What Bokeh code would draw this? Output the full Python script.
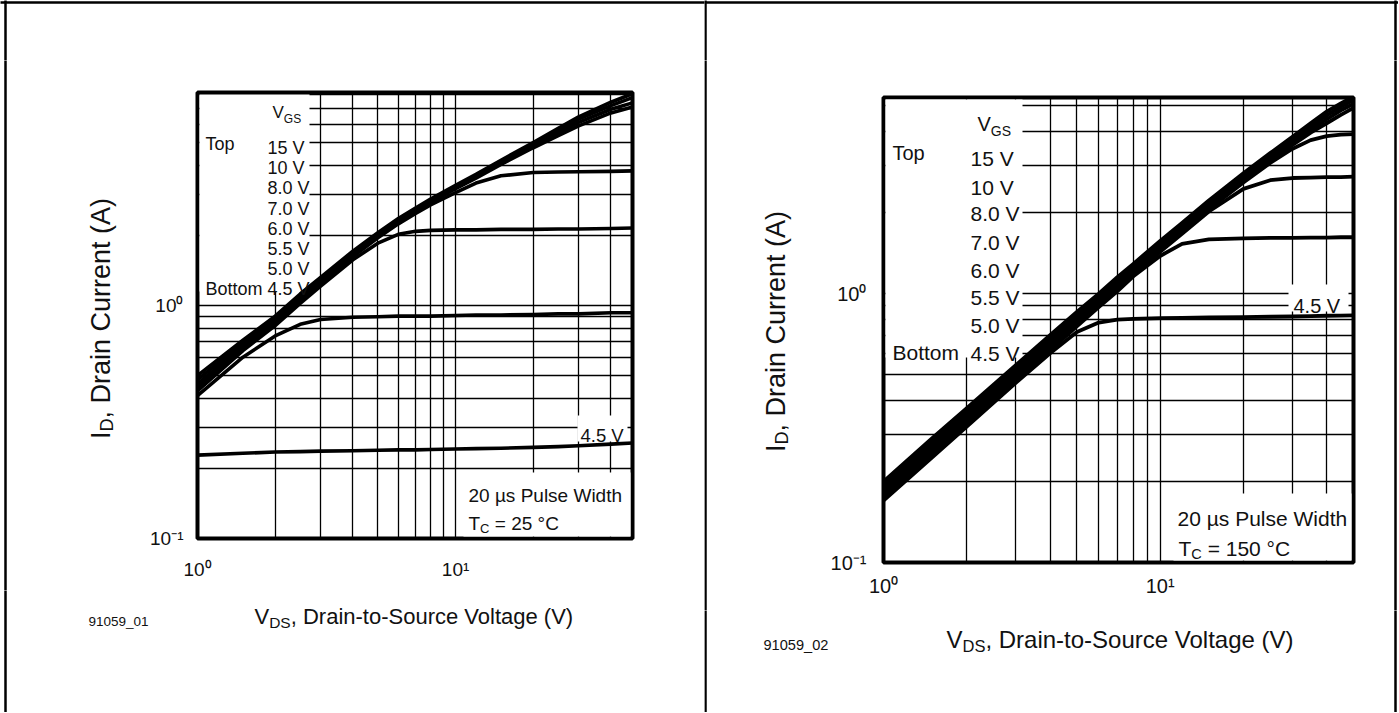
import math
from bokeh.plotting import figure
from bokeh.models import Label, FixedTicker, CustomJSTickFormatter, Range1d, Plot
from bokeh.layouts import row, column
from bokeh.embed import file_html
from bokeh.resources import INLINE

# ---------------- data ----------------
vgs_labels = ["15 V", "10 V", "8.0 V", "7.0 V", "6.0 V", "5.5 V", "5.0 V", "4.5 V"]

# TC = 25 C
vds_25 = [1, 1.5, 2, 2.5, 3, 4, 5, 6, 7, 8, 10, 12, 15, 20, 25, 30, 40, 48.5]
id25_15v = [0.50, 0.71, 0.90, 1.12, 1.32, 1.71, 2.05, 2.36, 2.62, 2.86, 3.28, 3.65, 4.20, 5.00, 5.75, 6.45, 7.45, 8.10]
id25_10v = [0.48, 0.69, 0.88, 1.09, 1.29, 1.68, 2.02, 2.33, 2.59, 2.83, 3.24, 3.60, 4.15, 4.93, 5.65, 6.30, 7.20, 7.80]
id25_8v = [0.46, 0.67, 0.86, 1.07, 1.27, 1.66, 2.00, 2.30, 2.56, 2.80, 3.20, 3.56, 4.10, 4.85, 5.50, 6.10, 6.95, 7.40]
id25_7v = [0.45, 0.66, 0.85, 1.05, 1.25, 1.64, 1.98, 2.28, 2.53, 2.77, 3.17, 3.52, 4.03, 4.75, 5.35, 5.90, 6.70, 7.10]
id25_6v = [0.44, 0.65, 0.84, 1.04, 1.24, 1.62, 1.95, 2.24, 2.48, 2.70, 3.05, 3.35, 3.60, 3.72, 3.74, 3.75, 3.76, 3.78]
id25_55v = [0.43, 0.64, 0.82, 1.02, 1.21, 1.57, 1.85, 2.02, 2.08, 2.10, 2.11, 2.11, 2.12, 2.12, 2.13, 2.13, 2.14, 2.15]
id25_5v = [0.41, 0.60, 0.74, 0.83, 0.87, 0.89, 0.895, 0.90, 0.90, 0.90, 0.905, 0.91, 0.91, 0.915, 0.92, 0.92, 0.93, 0.93]
id25_45v = [0.228, 0.232, 0.235, 0.236, 0.237, 0.238, 0.239, 0.240, 0.240, 0.241, 0.242, 0.243, 0.244, 0.246, 0.248, 0.250, 0.254, 0.257]

# TC = 150 C
vds_150 = [1, 1.5, 2, 3, 4, 5, 6, 7, 8, 10, 12, 15, 20, 25, 30, 35, 40, 45, 50]
id150_15v = [0.200, 0.290, 0.375, 0.540, 0.700, 0.855, 1.00, 1.15, 1.29, 1.57, 1.83, 2.22, 2.80, 3.33, 3.82, 4.30, 4.75, 5.10, 5.40]
id150_10v = [0.195, 0.283, 0.366, 0.527, 0.683, 0.835, 0.98, 1.125, 1.26, 1.54, 1.80, 2.18, 2.74, 3.26, 3.73, 4.18, 4.60, 4.95, 5.25]
id150_8v = [0.190, 0.276, 0.357, 0.515, 0.668, 0.815, 0.96, 1.10, 1.235, 1.51, 1.76, 2.13, 2.68, 3.19, 3.64, 4.07, 4.45, 4.80, 5.08]
id150_7v = [0.185, 0.270, 0.350, 0.505, 0.655, 0.800, 0.94, 1.08, 1.21, 1.48, 1.73, 2.09, 2.63, 3.12, 3.56, 3.97, 4.30, 4.62, 4.90]
id150_6v = [0.181, 0.264, 0.343, 0.495, 0.643, 0.785, 0.925, 1.06, 1.19, 1.455, 1.70, 2.06, 2.59, 3.06, 3.45, 3.72, 3.85, 3.90, 3.92]
id150_55v = [0.177, 0.258, 0.336, 0.485, 0.630, 0.770, 0.905, 1.04, 1.17, 1.43, 1.67, 2.02, 2.45, 2.64, 2.69, 2.70, 2.71, 2.71, 2.72]
id150_5v = [0.173, 0.252, 0.328, 0.475, 0.615, 0.755, 0.89, 1.02, 1.16, 1.38, 1.53, 1.59, 1.605, 1.61, 1.61, 1.615, 1.615, 1.62, 1.62]
id150_45v = [0.170, 0.246, 0.320, 0.465, 0.600, 0.720, 0.78, 0.80, 0.805, 0.81, 0.812, 0.815, 0.818, 0.82, 0.822, 0.825, 0.827, 0.828, 0.83]

x_tick_values = [1, 10]
y_tick_values = [0.1, 1]

curves_25 = [id25_15v, id25_10v, id25_8v, id25_7v, id25_6v, id25_55v, id25_5v, id25_45v]
curves_150 = [id150_15v, id150_10v, id150_8v, id150_7v, id150_6v, id150_55v, id150_5v, id150_45v]

# ---------------- styling helpers ----------------
FONT = "Liberation Sans"
TXT = "#111111"
NOALIGN = {"frame_align": False} if "frame_align" in Plot.properties() else {}
ADV = {' ': 0.278, ',': 0.278, '(': 0.333, ')': 0.333, '-': 0.333, '=': 0.584, '\u00b0': 0.4,
       '\u00b5': 0.576, '.': 0.278, '_': 0.556,
       'A': 0.667, 'B': 0.667, 'C': 0.722, 'D': 0.722, 'G': 0.778, 'I': 0.278, 'P': 0.667,
       'S': 0.667, 'T': 0.611, 'V': 0.667, 'W': 0.944,
       'a': 0.556, 'c': 0.5, 'd': 0.556, 'e': 0.556, 'g': 0.556, 'h': 0.556, 'i': 0.222,
       'l': 0.222, 'm': 0.833, 'n': 0.556, 'o': 0.556, 'p': 0.556, 'r': 0.333, 's': 0.5,
       't': 0.278, 'u': 0.556}


def text_width(s, size):
    return sum(ADV.get(ch, 0.556) for ch in s) * size


class Frame:
    """Page-pixel position of a log-log plot frame."""
    def __init__(self, left, top, right, bottom, x0, x1, y0, y1):
        self.left, self.top, self.right, self.bottom = left, top, right, bottom
        self.x0, self.x1, self.y0, self.y1 = x0, x1, y0, y1
        self.lx0, self.lx1 = math.log10(x0), math.log10(x1)
        self.ly0, self.ly1 = math.log10(y0), math.log10(y1)

    def x(self, px):
        return 10 ** (self.lx0 + (px - self.left) / (self.right - self.left) * (self.lx1 - self.lx0))

    def y(self, py):
        return 10 ** (self.ly1 - (py - self.top) / (self.bottom - self.top) * (self.ly1 - self.ly0))


class Strip:
    """A plain figure whose frame fills its canvas; data units = page pixels."""
    def __init__(self, ox, oy, w, h):
        self.ox, self.oy, self.w, self.h = ox, oy, w, h
        self.p = figure(width=w, height=h, x_range=Range1d(0, w), y_range=Range1d(h, 0),
                        x_axis_location=None, y_axis_location=None, min_border=0,
                        min_border_left=0, min_border_right=0, min_border_top=0, min_border_bottom=0,
                        output_backend="svg", toolbar_location=None,
                        background_fill_color="white", border_fill_color="white", **NOALIGN)
        self.p.outline_line_color = None
        self.p.grid.visible = False

    def x(self, px):
        return px - self.ox

    def y(self, py):
        return py - self.oy

    def vline(self, px):
        self.p.line([px - self.ox] * 2, [-20, self.h + 20], line_color="black", line_width=2.5)

    def hline(self, py):
        self.p.line([-20, self.w + 20], [py - self.oy] * 2, line_color="black", line_width=2.5)


def put(p, M, px, py, text, size, angle=0.0):
    p.add_layout(Label(x=M.x(px), y=M.y(py), text=text, text_font=FONT,
                       text_font_size=f"{size}px", text_align="left",
                       text_baseline="alphabetic", angle=angle, text_color=TXT))


def put_run(p, M, px, py, parts):
    pos = px
    for text, size, shift in parts:
        lead = len(text) - len(text.lstrip(' '))
        pos += text_width(' ' * lead, size)
        body = text.lstrip(' ')
        put(p, M, pos, py + shift, body, size)
        pos += text_width(body, size)


def put_run_vertical(p, M, bx, cy, parts):
    total = sum(text_width(t, s) for t, s, _ in parts)
    pos = cy + total / 2
    for text, size, shift in parts:
        put(p, M, bx + shift, pos, text, size, angle=math.pi / 2)
        pos -= text_width(text, size)


def white_box(p, F, l, r, t, b):
    p.quad(left=[F.x(l)], right=[F.x(r)], top=[F.y(t)], bottom=[F.y(b)],
           fill_color="white", line_color=None)


def decade_minors(lo, hi):
    return [m * 10.0 ** k for k in range(lo, hi + 1) for m in range(2, 10)]


def sup_formatter():
    return CustomJSTickFormatter(code="""
        const e = Math.round(Math.log10(tick));
        const s = {"-1": "\u207b\u00b9", "0": "\u2070", "1": "\u00b9"};
        return "10" + s[String(e)];
    """)


def build(ox, oy, width, height, F, tick_size, xstand, ystand):
    p = figure(width=width, height=height, x_axis_type="log", y_axis_type="log",
               x_range=(F.x0, F.x1), y_range=(F.y0, F.y1),
               output_backend="svg", toolbar_location=None,
               min_border_left=F.left - ox, min_border_right=ox + width - F.right,
               min_border_top=F.top - oy, min_border_bottom=oy + height - F.bottom,
               background_fill_color="white", border_fill_color="white", **NOALIGN)
    p.outline_line_color = "black"
    p.outline_line_width = 4
    p.xaxis.ticker = FixedTicker(ticks=x_tick_values, minor_ticks=decade_minors(0, 1))
    p.yaxis.ticker = FixedTicker(ticks=y_tick_values, minor_ticks=decade_minors(-1, 0))
    for ax in (p.xaxis[0], p.yaxis[0]):
        ax.formatter = sup_formatter()
        ax.axis_line_color = None
        ax.major_tick_line_color = None
        ax.minor_tick_line_color = None
        ax.major_label_text_font = FONT
        ax.major_label_text_font_size = f"{tick_size}px"
        ax.major_label_text_color = TXT
    p.xaxis.major_label_standoff = xstand
    p.yaxis.major_label_standoff = ystand
    for g in (p.xgrid[0], p.ygrid[0]):
        g.grid_line_color = "black"
        g.grid_line_width = 1.3
        g.minor_grid_line_color = "black"
        g.minor_grid_line_width = 1.3
    return p


# ================= left panel (25 C) =================
F1 = Frame(197, 92, 632, 538, 1, 48.5, 0.1, 8.2)
T1 = Strip(0, 0, 704, 60)
L1 = Strip(0, 60, 140, 530)
B1 = Strip(0, 590, 704, 122)
p1 = build(140, 60, 564, 530, F1, 19, 14, 8)

white_box(p1, F1, 199, 309, 94, 291)
white_box(p1, F1, 463, 630, 472, 536)
white_box(p1, F1, 577, 627, 415, 441)
for ids in curves_25:
    p1.line(vds_25, ids, line_color="black", line_width=3.6, line_join="round")

put_run(p1, F1, 272, 112, [("V", 17, 0), ("GS", 12, 6)])
put(p1, F1, 205, 143, "Top", 18)
put(p1, F1, 205, 288, "Bottom", 18)
for lab, by in zip(vgs_labels, [147, 167, 187, 208, 228, 248, 268, 288]):
    put(p1, F1, 267, by, lab, 18)
put(p1, F1, 580, 435, "4.5 V", 18.5)
put(p1, F1, 468, 495, "20 \u00b5s Pulse Width", 19)
put_run(p1, F1, 468, 523, [("T", 19, 0), ("C", 13, 5), (" = 25 \u00b0C", 19, 0)])

put_run_vertical(L1.p, L1, 100, 318, [("I", 27, 0), ("D", 18, 6), (", Drain Current (A)", 27, 0)])
put(B1.p, B1, 88, 621, "91059_01", 13.5)
put_run(B1.p, B1, 254, 616, [("V", 22, 0), ("DS", 15.5, 6), (", Drain-to-Source Voltage (V)", 22, 0)])

T1.hline(2)
T1.vline(5)
L1.vline(5)
B1.vline(5)

left_panel = column(T1.p, row(L1.p, p1), B1.p)

# ================= right panel (150 C) =================
F2 = Frame(883, 97, 1353, 562, 1, 50, 0.1, 5.36)
T2 = Strip(704, 0, 694, 60)
L2 = Strip(704, 60, 120, 550)
R2 = Strip(1360, 60, 38, 550)
B2 = Strip(704, 610, 694, 102)
p2 = build(824, 60, 536, 550, F2, 20, 6, 11)

white_box(p2, F2, 885, 1022, 99, 357)
white_box(p2, F2, 1173, 1351, 493, 560)
white_box(p2, F2, 1288, 1348, 284, 311)
for ids in curves_150:
    p2.line(vds_150, ids, line_color="black", line_width=3.8, line_join="round")

put_run(p2, F2, 977, 123, [("V", 20, 0), ("GS", 14, 7)])
put(p2, F2, 892, 152, "Top", 20)
put(p2, F2, 892, 352, "Bottom", 21)
for lab, by in zip(vgs_labels, [158, 187, 213, 242, 270, 297, 325, 353]):
    put(p2, F2, 970, by, lab, 21)
put(p2, F2, 1293, 305, "4.5 V", 20)
put(p2, F2, 1177, 518, "20 \u00b5s Pulse Width", 21)
put_run(p2, F2, 1178, 548, [("T", 21, 0), ("C", 14.5, 5), (" = 150 \u00b0C", 21, 0)])

put_run_vertical(L2.p, L2, 775, 331, [("I", 27, 0), ("D", 18, 6), (", Drain Current (A)", 27, 0)])
put(B2.p, B2, 763, 644, "91059_02", 14.6)
put_run(B2.p, B2, 946, 639, [("V", 24, 0), ("DS", 16.5, 6), (", Drain-to-Source Voltage (V)", 24, 0)])

T2.hline(2)
T2.vline(705)
T2.vline(1395)
L2.vline(705)
R2.vline(1395)
B2.vline(705)
B2.vline(1395)

right_panel = column(T2.p, row(L2.p, p2, R2.p), B2.p)

layout = row(left_panel, right_panel)
with open("out.html", "w") as f:
    f.write(file_html(layout, INLINE))
